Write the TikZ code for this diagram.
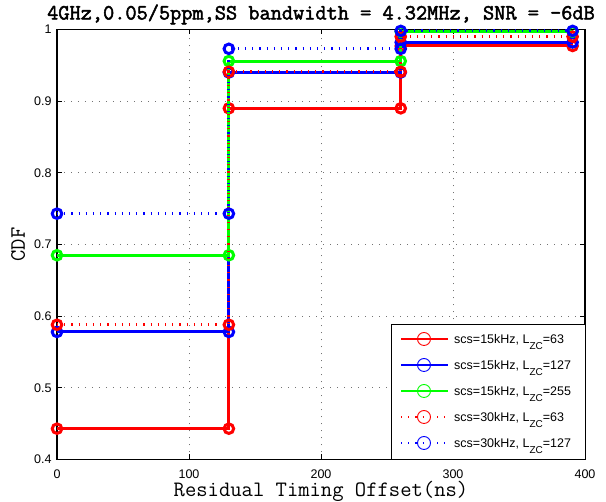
\documentclass[tikz,border=0pt]{standalone}
\usepackage{fontspec}
\setmainfont{Liberation Sans}
\newfontfamily\courierbold{Latin Modern Mono}[FakeBold=2.2]
\usetikzlibrary{plotmarks}

% L with the ZC subscript, as in the legend
\newcommand{\Lzc}[1]{L\raisebox{-6.5pt}{\fontsize{10}{10}\selectfont ZC}=#1}

\begin{document}
\begin{tikzpicture}[
  x=1pt, y=1pt,
  font=\fontsize{12.5}{14}\selectfont,
  axframe/.style={line width=1.3pt},
  tickmark/.style={line width=0.9pt},
  gridline/.style={black!55, line width=0.8pt, dash pattern=on 1pt off 6pt},
  curve/.style={#1, line width=3pt, mark=o, mark size=4.8pt, mark options={solid}},
  dotline/.style={dash pattern=on 1.2pt off 6pt},
  courierlabel/.style={font=\ttfamily\fontsize{22}{22}\selectfont, inner sep=0},
  plotarea/.style={x=1.32pt, y=716.67pt, yshift=-286.67pt} % ns on x, CDF on y
]
\useasboundingbox (-57,-42.5) rectangle (549,459.5);

% =========================
% Axes, grid and ticks
% =========================
\begin{scope}[plotarea]
\foreach \xv in {100,200,300}
  \draw[gridline] (\xv,0.4) -- (\xv,1);
\foreach \yv in {0.5,0.6,0.7,0.8,0.9}
  \draw[gridline] (0,\yv) -- (400,\yv);

\draw[axframe] (0,0.4) rectangle (400,1);

\foreach \xv in {0,100,200,300,400} {
  \draw[tickmark] (\xv,0.4) -- ++(0pt,5pt) (\xv,1) -- ++(0pt,-5pt);
  \node[anchor=north, inner sep=0, yshift=-10pt] (xt\xv) at (\xv,0.4) {\xv};
}
\foreach \yv [count=\k] in {0.4,0.5,0.6,0.7,0.8,0.9,1} {
  \draw[tickmark] (0,\yv) -- ++(5pt,0pt) (400,\yv) -- ++(-5pt,0pt);
  \node[anchor=east, inner sep=0, xshift=-5.3pt] (yt\k) at (0,\yv) {\yv};
}

% =========================
% CDF curves
% =========================
\draw[curve=red] plot coordinates {(0,0.443) (130.2,0.443) (130.2,0.890)
  (260.4,0.890) (260.4,0.977) (390.6,0.977)};
\draw[curve=blue] plot coordinates {(0,0.578) (130.2,0.578) (130.2,0.940)
  (260.4,0.940) (260.4,0.982) (390.6,0.982)};
\draw[curve=green] plot coordinates {(0,0.685) (130.2,0.685) (130.2,0.956)
  (260.4,0.956) (260.4,0.997) (390.6,0.997)};
\draw[curve=red, dotline] plot coordinates {(0,0.588) (130.2,0.588) (130.2,0.941)
  (260.4,0.941) (260.4,0.990) (390.6,0.990)};
\draw[curve=blue, dotline] plot coordinates {(0,0.743) (130.2,0.743) (130.2,0.973)
  (260.4,0.973) (260.4,0.998) (390.6,0.998)};
\end{scope}

% =========================
% Labels
% =========================
\node[courierlabel, font=\courierbold\fontsize{21.7}{22}\selectfont, anchor=base]
  (title) at (264,440) {4GHz,0.05/5ppm,SS bandwidth = 4.32MHz, SNR = -6dB};
\node[courierlabel, anchor=base] (xlab) at (264,-37.5) {Residual Timing Offset(ns)};
\node[courierlabel, anchor=base, rotate=90] (ylab) at (-32,215) {CDF};

% =========================
% Legend
% =========================
\draw[fill=white, line width=1pt] (334,0) rectangle (528,134.5);
\foreach \col/\pat/\txt [count=\k] in {
    red/solid/{scs=15kHz, \Lzc{63}},
    blue/solid/{scs=15kHz, \Lzc{127}},
    green/solid/{scs=15kHz, \Lzc{255}},
    red/dotline/{scs=30kHz, \Lzc{63}},
    blue/dotline/{scs=30kHz, \Lzc{127}}} {
  \pgfmathsetmacro\ly{146.5-26*\k}
  \draw[\col, \pat, line width=2.8pt] (344,\ly) -- (391,\ly);
  \draw[\col, line width=0.9pt] (367,\ly) circle (6.5pt);
  \node[anchor=base west, inner sep=0] (leg\k) at (397,\ly-4.3) {\txt};
}
\end{tikzpicture}
\end{document}
